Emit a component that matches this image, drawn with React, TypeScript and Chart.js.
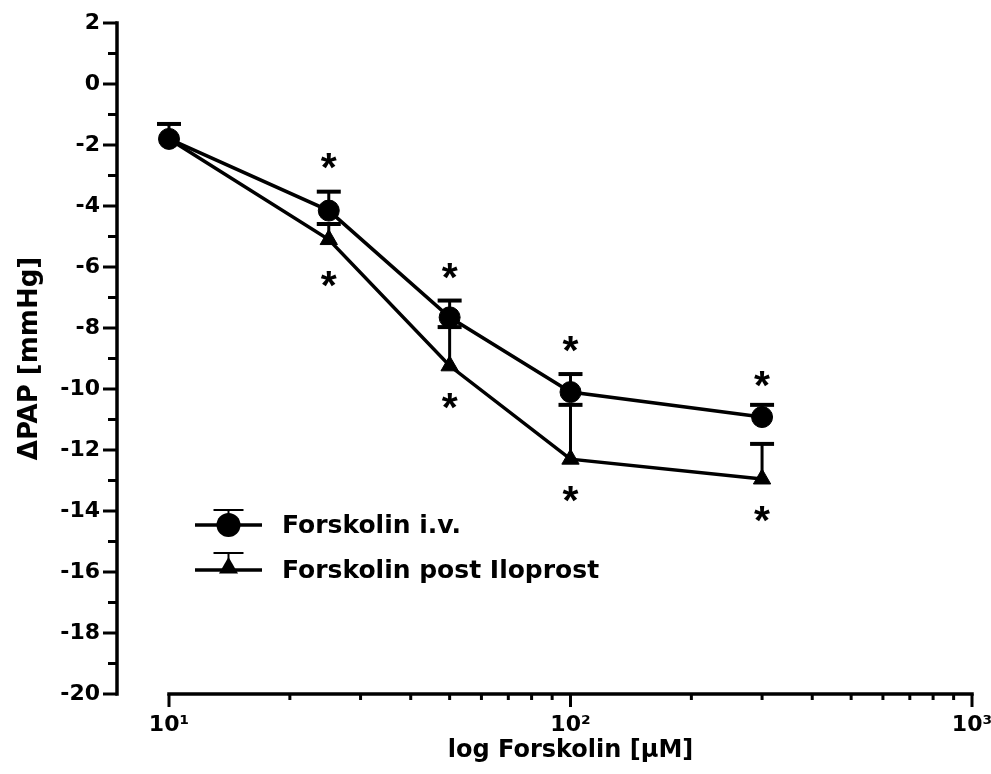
import React, { useEffect, useRef } from "react";
import { Chart, registerables } from "chart.js";

Chart.register(...registerables);

// ---- data ----
const doses = [10, 25, 50, 100, 300];
const ivMean = [-1.8, -4.15, -7.65, -10.1, -10.92];
const ivSem = [0.49, 0.62, 0.55, 0.59, 0.4];
const iloMean = [-1.8, -5.1, -9.24, -12.3, -12.95];
const iloSem = [null, 0.51, 1.27, 1.78, 1.15];
const starAbove = [null, -2.51, -6.12, -8.52, -9.67];
const starBelow = [null, -6.39, -10.38, -13.44, -14.1];
const seriesNames = ["Forskolin i.v.", "Forskolin post Iloprost"];
const xTickValues = [10, 100, 1000];
const xTickLabels = ["10\u00B9", "10\u00B2", "10\u00B3"];
const xMinorTicks = [20, 30, 40, 50, 60, 70, 80, 90, 200, 300, 400, 500, 600, 700, 800, 900];
const yMin = -20;
const yMax = 2;
const xMin = 10;
const xMax = 1000;
const yTitle = "\u0394PAP [mmHg]";
const xTitle = "log Forskolin [\u00B5M]";

const FONT = "'DejaVu Sans', 'Liberation Sans', Arial, sans-serif";

function triPath(ctx: CanvasRenderingContext2D, x: number, y: number, r: number) {
  ctx.beginPath();
  for (let k = 0; k < 3; k++) {
    const a = (k * 2 * Math.PI) / 3;
    const px = x + Math.sin(a) * r;
    const py = y - Math.cos(a) * r;
    if (k === 0) ctx.moveTo(px, py);
    else ctx.lineTo(px, py);
  }
  ctx.closePath();
}

const axesPlugin = {
  id: "customAxes",
  afterDraw(chart: any) {
    const { ctx, chartArea, scales } = chart;
    const xs = scales.x;
    const ys = scales.y;
    ctx.save();
    ctx.strokeStyle = "#000";
    ctx.lineWidth = 3.5;
    ctx.lineCap = "butt";
    const axX = chartArea.left - 52;
    ctx.beginPath();
    ctx.moveTo(axX, ys.getPixelForValue(yMax) - 1.75);
    ctx.lineTo(axX, ys.getPixelForValue(yMin) + 1.75);
    ctx.stroke();
    ctx.lineWidth = 3;
    for (let v = yMin; v <= yMax; v++) {
      const py = ys.getPixelForValue(v);
      const len = v % 2 === 0 ? 14 : 9;
      ctx.beginPath();
      ctx.moveTo(axX - len, py);
      ctx.lineTo(axX, py);
      ctx.stroke();
    }
    const axY = chartArea.bottom;
    ctx.lineWidth = 3.5;
    ctx.beginPath();
    ctx.moveTo(xs.getPixelForValue(xMin) - 1.75, axY);
    ctx.lineTo(xs.getPixelForValue(xMax) + 1.75, axY);
    ctx.stroke();
    ctx.lineWidth = 3;
    xTickValues.forEach((v) => {
      const px = xs.getPixelForValue(v);
      ctx.beginPath();
      ctx.moveTo(px, axY);
      ctx.lineTo(px, axY + 13);
      ctx.stroke();
    });
    xMinorTicks.forEach((v) => {
      const px = xs.getPixelForValue(v);
      ctx.beginPath();
      ctx.moveTo(px, axY);
      ctx.lineTo(px, axY + 6);
      ctx.stroke();
    });
    ctx.restore();
  },
};

const errorBarPlugin = {
  id: "errorBars",
  beforeDatasetsDraw(chart: any) {
    const { ctx, scales } = chart;
    const xs = scales.x;
    const ys = scales.y;
    const sets = [
      { mean: ivMean, sem: ivSem as (number | null)[] },
      { mean: iloMean, sem: iloSem as (number | null)[] },
    ];
    ctx.save();
    ctx.strokeStyle = "#000";
    sets.forEach((s) => {
      doses.forEach((d, i) => {
        const e = s.sem[i];
        if (e === null || e === undefined) return;
        const px = xs.getPixelForValue(d);
        const py = ys.getPixelForValue(s.mean[i]);
        const pt = ys.getPixelForValue(s.mean[i] + e);
        ctx.lineWidth = 3;
        ctx.beginPath();
        ctx.moveTo(px, py);
        ctx.lineTo(px, pt);
        ctx.stroke();
        ctx.lineWidth = 4;
        ctx.beginPath();
        ctx.moveTo(px - 12, pt);
        ctx.lineTo(px + 12, pt);
        ctx.stroke();
      });
    });
    ctx.restore();
  },
};

const starPlugin = {
  id: "stars",
  afterDatasetsDraw(chart: any) {
    const { ctx, scales } = chart;
    const xs = scales.x;
    const ys = scales.y;
    ctx.save();
    ctx.fillStyle = "#000";
    ctx.textAlign = "left";
    ctx.textBaseline = "alphabetic";
    ctx.font = "bold 100px 'Liberation Sans', Arial, sans-serif";
    const m0 = ctx.measureText("*");
    const w0 = m0.actualBoundingBoxLeft + m0.actualBoundingBoxRight;
    const size = (100 * 16) / (w0 || 33);
    ctx.font = `bold ${size}px 'Liberation Sans', Arial, sans-serif`;
    const m = ctx.measureText("*");
    const drawStar = (v: number | null, d: number) => {
      if (v === null) return;
      const px = xs.getPixelForValue(d);
      const py = ys.getPixelForValue(v);
      const cx = px - (m.actualBoundingBoxRight - m.actualBoundingBoxLeft) / 2;
      const cy = py + (m.actualBoundingBoxAscent - m.actualBoundingBoxDescent) / 2;
      ctx.fillText("*", cx, cy);
    };
    doses.forEach((d, i) => {
      drawStar(starAbove[i], d);
      drawStar(starBelow[i], d);
    });
    ctx.restore();
  },
};

const legendPlugin = {
  id: "customLegend",
  afterDraw(chart: any) {
    const { ctx, chartArea } = chart;
    const x0 = chartArea.left + 26;
    const x1 = chartArea.left + 93;
    const mx = (x0 + x1) / 2;
    const rows = [chartArea.top + 502, chartArea.top + 547];
    ctx.save();
    ctx.strokeStyle = "#000";
    ctx.fillStyle = "#000";
    rows.forEach((ry, i) => {
      const capY = ry - (i === 0 ? 15 : 17);
      ctx.lineWidth = 2;
      ctx.beginPath();
      ctx.moveTo(mx, ry);
      ctx.lineTo(mx, capY);
      ctx.stroke();
      ctx.beginPath();
      ctx.moveTo(mx - 15, capY);
      ctx.lineTo(mx + 15, capY);
      ctx.stroke();
      ctx.lineWidth = 3.5;
      ctx.beginPath();
      ctx.moveTo(x0, ry);
      ctx.lineTo(x1, ry);
      ctx.stroke();
      if (i === 0) {
        ctx.beginPath();
        ctx.arc(mx, ry, 12, 0, Math.PI * 2);
        ctx.fill();
      } else {
        triPath(ctx, mx, ry - 2, 11);
        ctx.fill();
      }
      ctx.font = `bold 25px ${FONT}`;
      ctx.textAlign = "left";
      ctx.textBaseline = "middle";
      ctx.fillText(seriesNames[i], x1 + 20, ry + 1);
    });
    ctx.restore();
  },
};

export default function App() {
  const ref = useRef<HTMLCanvasElement | null>(null);

  useEffect(() => {
    if (!ref.current) return;
    const chart = new Chart(ref.current, {
      type: "line",
      data: {
        datasets: [
          {
            label: seriesNames[0],
            data: doses.map((d, i) => ({ x: d, y: ivMean[i] })),
            borderColor: "#000",
            backgroundColor: "#000",
            borderWidth: 3.5,
            pointStyle: "circle",
            pointRadius: 10.5,
            pointBorderWidth: 1,
            pointBackgroundColor: "#000",
            pointBorderColor: "#000",
            tension: 0,
            clip: false,
          } as any,
          {
            label: seriesNames[1],
            data: doses.map((d, i) => ({ x: d, y: iloMean[i] })),
            borderColor: "#000",
            backgroundColor: "#000",
            borderWidth: 3.5,
            pointStyle: "triangle",
            pointRadius: 10,
            pointBorderWidth: 1,
            pointBackgroundColor: "#000",
            pointBorderColor: "#000",
            tension: 0,
            clip: false,
          } as any,
        ],
      },
      options: {
        animation: false,
        responsive: true,
        maintainAspectRatio: false,
        layout: { padding: { top: 23, right: 19, left: 0, bottom: 0 } },
        plugins: {
          legend: { display: false },
          tooltip: { enabled: false },
        },
        scales: {
          x: {
            type: "logarithmic",
            min: xMin,
            max: xMax,
            grid: { display: false, drawTicks: false },
            border: { display: false },
            afterBuildTicks: (s: any) => {
              s.ticks = xTickValues.map((v) => ({ value: v }));
            },
            afterFit: (s: any) => {
              s.height = 80;
              s.paddingLeft = 0;
              s.paddingRight = 0;
            },
            ticks: {
              autoSkip: false,
              maxRotation: 0,
              minRotation: 0,
              padding: 18,
              color: "#000",
              font: { family: FONT, size: 22, weight: "bold" },
              callback: (v: any) => {
                const idx = xTickValues.indexOf(Number(v));
                return idx >= 0 ? xTickLabels[idx] : "";
              },
            },
            title: {
              display: true,
              text: xTitle,
              color: "#000",
              font: { family: FONT, size: 24, weight: "bold" },
              padding: { top: 0, bottom: 9 },
            },
          } as any,
          y: {
            type: "linear",
            min: yMin,
            max: yMax,
            grid: { display: false, drawTicks: false },
            border: { display: false },
            afterFit: (s: any) => {
              s.width = 169;
              s.paddingTop = 0;
              s.paddingBottom = 0;
            },
            ticks: {
              stepSize: 2,
              padding: 69,
              color: "#000",
              font: { family: FONT, size: 22, weight: "bold" },
            },
            title: {
              display: true,
              text: yTitle,
              color: "#000",
              font: { family: FONT, size: 26, weight: "bold" },
              padding: { top: 15, bottom: 0 },
            },
          } as any,
        },
      },
      plugins: [errorBarPlugin, starPlugin, axesPlugin, legendPlugin],
    });
    return () => chart.destroy();
  }, []);

  return (
    <div style={{ position: "fixed", left: 0, top: 0, width: 991, height: 774, background: "#fff" }}>
      <canvas ref={ref} />
    </div>
  );
}
